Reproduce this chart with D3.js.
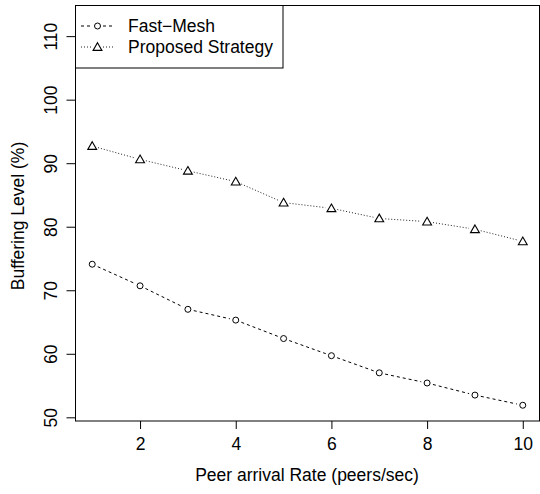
<!DOCTYPE html>
<html><head><meta charset="utf-8">
<script src="https://cdn.jsdelivr.net/npm/d3@7/dist/d3.min.js"></script>
<style>body{margin:0;background:#fff}svg{display:block}text{font-family:"Liberation Sans",Arial,Helvetica,sans-serif;fill:#000}</style>
</head><body>
<svg id="c" width="540" height="494"></svg>
<script>
const rates = [1,2,3,4,5,6,7,8,9,10];
const fastMesh = [74.1,70.7,67.0,65.3,62.4,59.7,57.0,55.4,53.5,51.9];
const proposed = [92.7,90.6,88.8,87.1,83.8,82.9,81.3,80.8,79.6,77.7];
const xTicks = [2,4,6,8,10];
const yTicks = [50,60,70,80,90,100,110];
const seriesNames = ["Fast\u2212Mesh","Proposed Strategy"];
const xTitle = "Peer arrival Rate (peers/sec)";
const yTitle = "Buffering Level (%)";

const svg = d3.select("#c");
const L = 75.5, R = 539.5, T = 5.5, B = 421;
const x = d3.scaleLinear().domain([0.64,10.36]).range([75,540]);
const y = d3.scaleLinear().domain([49.42,114.9]).range([421,5]);
const fs = 17.5;

// axes
const gx = svg.append("g").attr("transform",`translate(0,${B})`)
  .call(d3.axisBottom(x).tickValues(xTicks).tickSize(8).tickFormat(d3.format("d")));
gx.select(".domain").remove();
gx.selectAll(".tick line").attr("stroke","#000");
gx.selectAll(".tick text").attr("y",29).attr("dy",0).attr("font-size",fs)
  .style("font-family",'"Liberation Sans",Arial,sans-serif').attr("fill","#000");

const gy = svg.append("g").attr("transform",`translate(${L},0)`)
  .call(d3.axisLeft(y).tickValues(yTicks).tickSize(9).tickFormat(d3.format("d")));
gy.select(".domain").remove();
gy.selectAll(".tick line").attr("stroke","#000");
gy.selectAll(".tick text").attr("x",null).attr("dy",0)
  .attr("text-anchor","middle").attr("transform","translate(-18.5,0) rotate(-90)")
  .attr("font-size",fs).style("font-family",'"Liberation Sans",Arial,sans-serif').attr("fill","#000");

// plot box
svg.append("rect").attr("x",L).attr("y",T).attr("width",R-L).attr("height",B-T)
  .attr("fill","none").attr("stroke","#000").attr("stroke-width",1);

// titles
svg.append("text").attr("x",307).attr("y",481).attr("text-anchor","middle").attr("font-size",fs).text(xTitle);
svg.append("text").attr("transform","translate(24.3,216) rotate(-90)").attr("text-anchor","middle").attr("font-size",fs).text(yTitle);

// series with gaps (type "b")
function segs(vals, gap){
  const out=[];
  for(let i=0;i<vals.length-1;i++){
    const x1=x(rates[i]),y1=y(vals[i]),x2=x(rates[i+1]),y2=y(vals[i+1]);
    const dx=x2-x1,dy=y2-y1,len=Math.hypot(dx,dy);
    const ux=dx/len,uy=dy/len;
    out.push([x1+ux*gap,y1+uy*gap,x2-ux*gap,y2-uy*gap]);
  }
  return out;
}
const series = [
  {vals:fastMesh, dash:"3,3", color:"#000", shape:"circle"},
  {vals:proposed, dash:"1,2", color:"#222", shape:"triangle"}
];
const tri = d3.symbol().type(d3.symbolTriangle).size(34);
function drawMarker(g, cx, cy, shape){
  if(shape==="circle"){
    g.append("circle").attr("cx",cx).attr("cy",cy).attr("r",3).attr("fill","none").attr("stroke","#000").attr("stroke-width",1);
  } else {
    g.append("path").attr("d",tri()).attr("transform",`translate(${cx},${cy+0.8})`).attr("fill","none").attr("stroke","#000").attr("stroke-width",1.1);
  }
}
series.forEach(s=>{
  const g=svg.append("g");
  g.selectAll("line").data(segs(s.vals,6)).join("line")
    .attr("x1",d=>d[0]).attr("y1",d=>d[1]).attr("x2",d=>d[2]).attr("y2",d=>d[3])
    .attr("stroke",s.color).attr("stroke-width",1).attr("stroke-dasharray",s.dash);
  s.vals.forEach((v,i)=>drawMarker(g,x(rates[i]),y(v),s.shape));
});

// legend
const lg = svg.append("g");
lg.append("rect").attr("x",L).attr("y",T).attr("width",283-L).attr("height",68-T)
  .attr("fill","#fff").attr("stroke","#000").attr("stroke-width",1);
const ly=[26,47];
series.forEach((s,i)=>{
  lg.append("line").attr("x1",81).attr("x2",92).attr("y1",ly[i]).attr("y2",ly[i]).attr("stroke",s.color).attr("stroke-dasharray",s.dash);
  lg.append("line").attr("x1",103).attr("x2",113).attr("y1",ly[i]).attr("y2",ly[i]).attr("stroke",s.color).attr("stroke-dasharray",s.dash);
  drawMarker(lg,97.5,ly[i],s.shape);
  lg.append("text").attr("x",128).attr("y",ly[i]).attr("dy","0.35em").attr("font-size",fs).text(seriesNames[i]);
});
</script>
</body></html>
